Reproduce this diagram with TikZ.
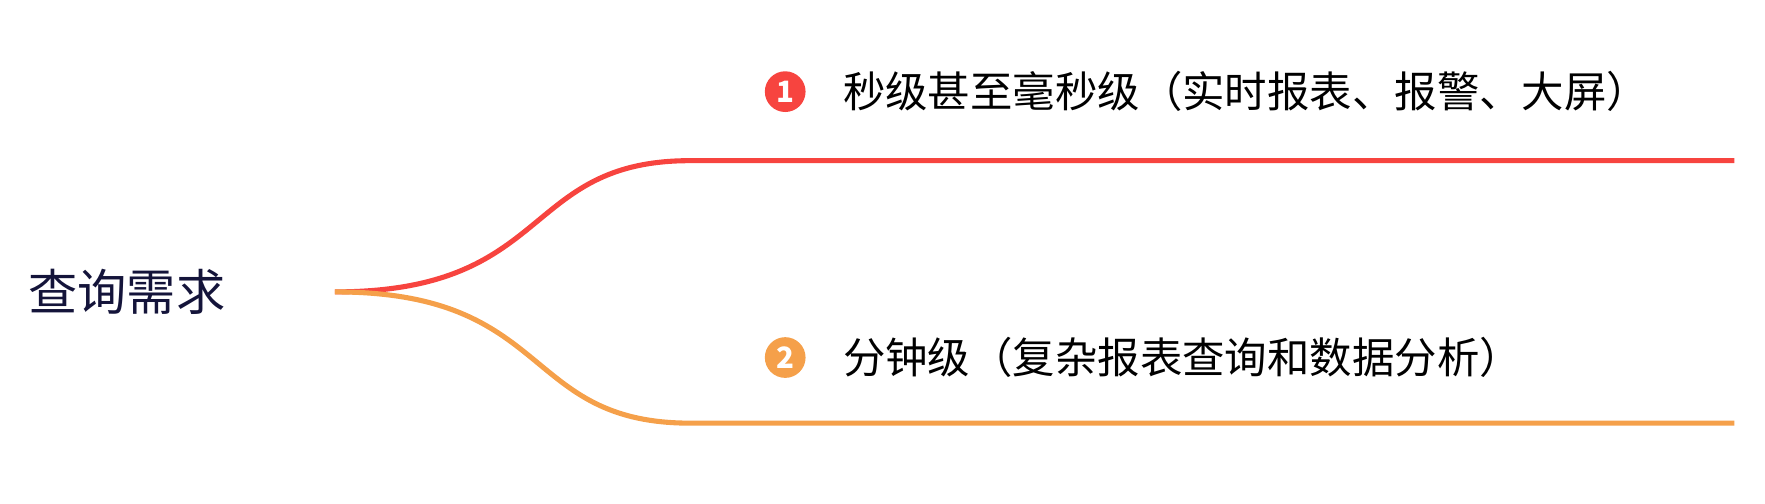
\documentclass[tikz,border=0pt]{standalone}
\usepackage{fontspec}
\setmainfont{Noto Sans CJK SC}
\definecolor{cred}{HTML}{F7443F}
\definecolor{corg}{HTML}{F5A04A}
\definecolor{croot}{HTML}{14143A}
\begin{document}
\begin{tikzpicture}[x=1pt,y=1pt,
  branch/.style={line width=4.5pt,line cap=butt},
  badge/.style={circle,fill=#1,text=white,inner sep=0pt,minimum size=36pt,font=\fontsize{26}{26}\selectfont\bfseries},
  lbl/.style={anchor=west,inner sep=0pt,font=\fontsize{37.5}{37.5}\selectfont,text=black}]
\useasboundingbox (0,0) rectangle (1560,445);
\node[anchor=west,inner sep=0pt,text=croot,font=\fontsize{43.5}{43.5}\selectfont] (root) at (25,187) {查询需求};
\coordinate (s) at (296,187);
\coordinate (a) at (610,303);
\coordinate (ae) at (1533,303);
\coordinate (b) at (610,71);
\coordinate (be) at (1533,71);
\draw[branch,cred] (s) .. controls (490,187) and (460,303) .. (a) -- (ae);
\draw[branch,corg] (s) .. controls (490,187) and (460,71) .. (b) -- (be);
\node[badge=cred] (b1) at (694,364) {1};
\node[lbl] (t1) at (745,364) {秒级甚至毫秒级（实时报表、报警、大屏）};
\node[badge=corg] (b2) at (694,129) {2};
\node[lbl] (t2) at (745,129) {分钟级（复杂报表查询和数据分析）};
\end{tikzpicture}
\end{document}
